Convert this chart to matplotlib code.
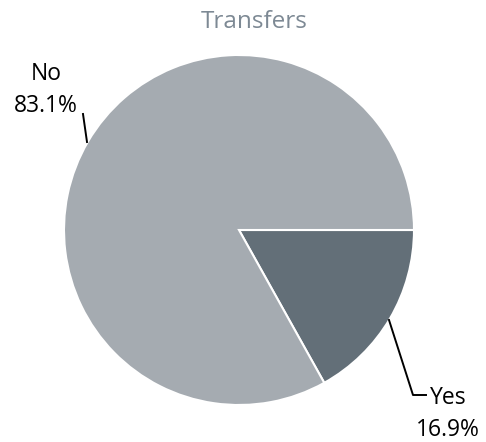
import matplotlib.pyplot as plt

# data
labels = ["Yes", "No"]
shares = [16.9, 83.1]
colors = ["#636F78", "#A5ABB1"]

W, H = 486, 442
cx, cy, r = 239, 230, 175  # pie centre / radius in pixels


def px(x, y):
    """pixel position (from top left) -> data coords of a unit pie"""
    return (x - cx) / r, (cy - y) / r


fig = plt.figure(figsize=(W / 100, H / 100), dpi=100)
ax = fig.add_axes([0, 0, 1, 1])
ax.pie(shares, colors=colors, startangle=0, counterclock=False, radius=1,
       wedgeprops=dict(edgecolor="white", linewidth=1.5))
x0, _ = px(0, 0)
x1, _ = px(W, 0)
_, y0 = px(0, H)
_, y1 = px(0, 0)
ax.set_xlim(x0, x1)
ax.set_ylim(y0, y1)
ax.set_aspect("equal")
ax.axis("off")

font = "Open Sans"
ax.text(*px(254, 22), "Transfers", ha="center", va="center",
        fontsize=17.5, color="#7D8994", family=font)

# No label + leader
ax.text(*px(46, 90), "No\n{:.1f}%".format(shares[1]), ha="center", va="center",
        fontsize=16.5, color="black", family=font, linespacing=1.4)
ax.plot(*zip(px(83, 114), px(87, 142)), color="black", lw=1.4)

# Yes label + leader
ax.text(*px(448, 414), "Yes\n{:.1f}%".format(shares[0]), ha="center", va="center",
        fontsize=16.5, color="black", family=font, linespacing=1.4)
ax.plot(*zip(px(389, 320), px(413, 395), px(426, 395)), color="black", lw=1.4)

plt.savefig("out.png", dpi=100)
